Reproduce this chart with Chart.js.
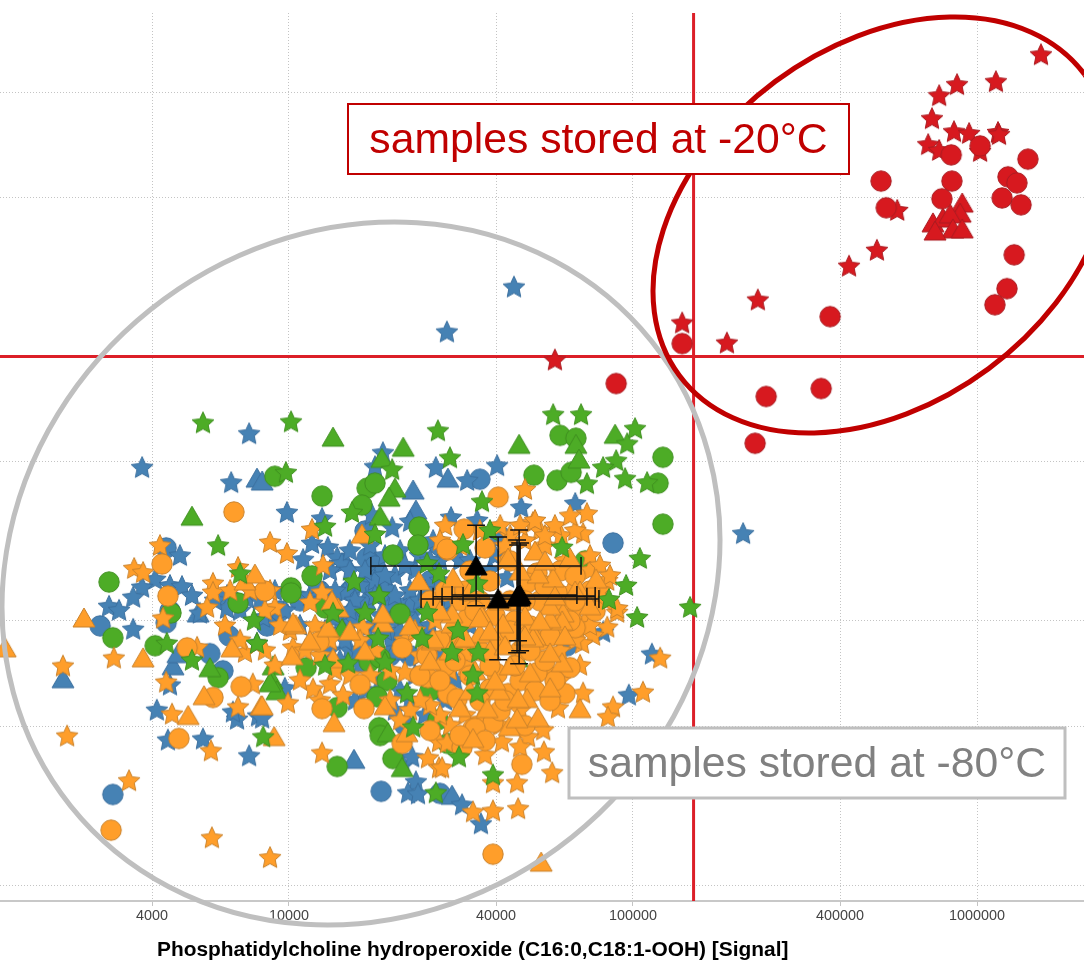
<!DOCTYPE html>
<html>
<head>
<meta charset="utf-8">
<title>Phosphatidylcholine hydroperoxide</title>
<script src="https://cdn.jsdelivr.net/npm/chart.js@4"></script>
<style>
  html, body { margin: 0; padding: 0; background: #fff; }
  canvas { display: block; }
</style>
</head>
<body>
<canvas id="scatterChart" width="1084" height="962"></canvas>
<script>
// all series values are log10(signal)
const xTickValues = [4000, 10000, 40000, 100000, 400000, 1000000];
const yTickValues = [1000, 4000, 10000, 40000, 100000, 400000, 1000000];
const xCutoff = 150000;
const yCutoff = 100000;

const blueStarX = [4.654,4.459,5.320,3.573,3.884,3.832,3.994,4.273,4.250,4.427,4.518,4.605,4.675,4.832,4.241,4.096,4.067,4.113,4.140,4.154,4.041,4.300,4.352,4.471,4.419,4.547,3.683,3.611,3.573,3.547,3.654,3.689,3.718,3.477,3.506,3.547,3.741,3.820,3.820,3.878,3.925,3.907,3.654,3.616,3.648,3.750,3.884,3.849,3.910,3.837,4.332,4.358,4.369,4.346,4.375,4.503,4.558,4.177,4.201,3.988,3.922,4.061,4.105,4.163,4.207,4.250,4.308,4.352,4.192,4.236,4.294,4.323,4.381,4.410,4.163,4.207,4.119,4.323,4.366,4.308,4.192,4.439,4.483,4.526,4.468,4.439,4.497,5.055,4.988,4.913,
    4.119,4.177,4.236,4.279,4.323,4.381,4.439,4.076,4.134,4.192,4.250,4.308,4.366,4.410,4.279,4.236,4.148,4.105,4.032,3.988,3.959,3.916,3.858,3.785,4.265,4.221,4.352,4.395,4.454,4.526,4.584,4.634,4.599,4.526,
    4.003,4.090,4.177,4.265,4.337,4.395,4.177,4.221,4.279,4.337];
const blueStarY = [5.261,5.091,4.328,4.578,4.706,4.521,4.408,4.634,4.581,4.578,4.529,4.585,4.427,4.442,4.400,4.385,4.291,4.276,4.238,4.215,4.230,4.351,4.374,4.389,4.302,4.378,4.245,4.155,4.125,4.087,4.132,4.128,4.094,4.053,4.038,3.966,4.027,4.094,4.045,4.083,4.011,3.913,3.755,3.660,3.547,3.551,3.487,3.626,3.638,3.653,3.453,3.483,3.389,3.347,3.343,3.302,3.230,3.887,3.887,3.743,3.630,4.094,4.076,4.106,4.132,4.151,4.170,4.113,4.000,3.981,4.057,3.962,4.076,3.981,3.925,3.830,3.887,3.736,3.793,3.660,3.698,3.868,3.774,3.981,4.076,4.151,4.227,3.872,3.717,3.955,
    4.189,4.189,4.283,4.245,4.264,4.245,4.227,4.132,4.113,4.076,4.094,4.094,4.189,4.227,3.962,3.925,3.849,3.962,3.981,4.038,4.113,4.076,4.038,4.076,3.774,3.736,3.698,3.642,3.698,3.887,4.189,4.162,4.245,4.227,
    4.113,4.076,4.038,4.019,4.019,4.113,4.264,4.189,4.170,4.208];
const blueCircleX = [4.555,4.942,3.643,3.643,3.654,3.451,3.826,3.770,3.808,3.488,4.268,4.614,4.227,4.230,4.332,3.954,3.936,4.337,4.439,4.221,4.279,4.032,4.192,4.308,4.352,4.439,4.454,4.410,4.163,4.808,
    4.119,4.308,4.250,4.177,4.366,4.294,4.410,3.974,4.090];
const blueCircleY = [4.536,4.295,4.276,3.993,4.038,3.981,3.943,3.876,3.811,3.343,3.355,4.321,4.238,4.144,4.049,4.000,3.981,3.604,3.347,4.340,4.113,4.076,4.038,3.925,3.868,4.283,4.038,4.151,3.981,3.906,
    4.057,4.019,4.208,4.113,4.057,3.868,3.925,4.038,4.113];
const blueTriangleX = [3.907,3.343,3.663,3.677,3.736,4.361,4.369,4.462,3.922,4.189,4.474,4.163,4.308,4.221,4.366,4.134,4.439];
const blueTriangleY = [4.540,3.781,3.830,3.876,4.030,4.495,4.419,4.540,4.529,3.476,3.340,4.227,3.887,4.076,4.000,4.019,3.925];

const greenStarX = [3.750,4.006,4.433,4.768,4.849,3.991,4.468,4.300,4.183,4.250,4.105,4.506,4.401,4.189,4.262,4.436,4.221,4.128,4.401,5.006,4.983,4.951,4.913,4.977,4.866,5.041,4.561,4.584,4.794,5.020,4.980,4.930,5.012,5.166,3.794,3.898,3.907,3.858,3.645,3.718,3.925,4.172,4.279,4.343,4.474,4.535,4.547,4.491,4.259,4.105,4.494,4.427,4.361,4.550,4.593,4.547,4.387];
const greenStarY = [4.747,4.751,4.717,4.778,4.778,4.559,4.615,4.570,4.408,4.325,4.355,4.287,4.215,4.147,4.094,4.177,4.030,4.027,4.030,4.725,4.668,4.604,4.578,4.536,4.517,4.521,4.449,4.340,4.276,4.234,4.132,4.079,4.011,4.049,4.283,4.000,3.913,4.177,3.913,3.849,3.559,3.838,3.842,3.725,3.879,3.793,3.725,3.962,3.932,3.830,3.483,3.347,3.596,3.879,3.415,4.140,3.932];
const greenCircleX = [3.959,4.096,4.227,4.250,4.212,4.378,4.375,4.302,4.067,4.006,4.006,4.105,4.323,4.788,4.834,5.087,5.073,5.087,4.712,4.779,4.820,4.861,4.866,3.477,3.488,3.657,3.852,3.611,3.794,4.050,4.233,4.265,4.285,4.256,4.140,4.410,4.433,4.262,4.265,4.302,4.140,4.462];
const greenCircleY = [4.547,4.472,4.502,4.521,4.438,4.355,4.287,4.249,4.170,4.125,4.106,4.049,4.027,4.702,4.691,4.619,4.521,4.366,4.551,4.532,4.562,4.227,4.068,4.147,3.936,4.030,4.068,3.906,3.785,3.823,3.845,3.860,3.774,3.713,3.672,3.736,3.626,3.596,3.566,3.479,3.449,3.536];
const greenTriangleX = [4.128,4.332,4.270,4.308,4.291,4.265,4.669,4.948,4.834,4.843,3.718,3.954,3.951,3.965,4.288,4.329,4.154,3.770,3.945,4.663];
const greenTriangleY = [4.695,4.657,4.615,4.502,4.468,4.396,4.668,4.706,4.668,4.612,4.396,3.830,3.777,3.736,3.577,3.445,3.970,3.823,3.766,3.860];

const orangeStarX = [3.343,3.491,3.355,3.535,3.776,3.945,3.643,3.660,3.852,3.773,3.895,3.872,3.733,3.550,3.576,3.625,3.779,3.779,3.762,3.852,3.634,3.945,3.994,4.067,4.099,4.096,4.061,3.959,3.945,3.997,4.070,4.119,4.157,4.012,4.096,4.404,4.436,4.436,4.535,4.337,4.468,4.215,4.512,5.079,5.029,4.942,4.927,4.855,4.782,4.739,4.695,4.619,4.570,4.672,4.741,4.765,4.663,4.666,4.593,4.593,4.925,4.884,4.852,4.445,4.459,4.954,4.686,4.866,4.855,4.709,4.730,4.791,4.925,4.954,4.628,4.686,4.744,4.802,4.875,4.817,4.454,4.890,4.861,4.919,4.643,
    4.439,4.497,4.555,4.614,4.672,4.715,4.773,4.832,4.817,4.744,4.628,4.875,4.904,4.933,4.904,4.861,4.832,4.788,4.875,4.832,4.788,4.744,4.788,4.846,4.672,4.614,4.555,4.512,4.468,4.439,4.410,4.381,4.352,4.323,4.294,4.236,4.177,4.134,4.090,4.047,4.003,3.974,4.076,4.119,4.207,4.250,4.294,4.337,4.381,4.425,4.366,3.930,3.887,3.829,3.814,3.858,3.930,3.959,4.032,4.090];
const orangeStarY = [3.827,3.857,3.562,3.393,3.177,3.102,3.766,3.645,3.672,3.506,3.759,3.879,3.898,4.196,4.181,4.283,4.140,4.106,4.049,4.200,4.008,4.295,4.253,4.344,4.208,4.106,4.068,4.049,4.113,3.687,3.740,3.759,3.717,3.898,3.498,3.479,3.442,3.540,3.275,3.804,3.811,3.974,3.830,3.857,3.728,3.672,3.634,3.725,3.668,3.585,3.559,3.540,3.491,3.521,3.502,3.423,3.385,3.287,3.279,3.385,3.974,3.943,3.913,3.442,3.536,4.030,4.495,4.404,4.328,4.370,4.340,4.321,4.151,4.045,4.227,4.302,4.283,4.227,4.189,4.113,4.359,4.076,4.000,4.076,4.321,
    4.302,4.283,4.340,4.359,4.359,4.378,4.359,4.340,4.396,4.321,4.283,4.245,4.208,4.170,4.113,4.057,4.038,4.000,3.981,3.925,3.887,3.811,3.774,3.830,3.660,3.604,3.623,3.642,3.604,3.642,3.679,3.698,3.660,3.623,3.698,3.793,3.793,3.811,3.868,3.887,3.962,3.981,3.981,3.925,3.925,3.887,3.811,3.925,3.868,4.000,3.962,4.038,4.113,4.113,3.981,3.925,3.887,3.830,3.774,3.698];
const orangeCircleX = [3.840,3.631,3.648,3.930,3.704,3.680,3.483,3.861,3.779,4.462,4.509,4.608,4.087,4.096,4.207,4.218,4.329,4.329,4.401,4.404,4.462,4.489,4.535,4.503,4.593,4.677,4.832,4.817,4.802,4.773,4.593,4.541,4.721,4.637,4.584,4.605,4.773,4.459,4.570,4.401,4.788,4.701,4.518,4.721,4.779,4.692,4.643,4.730,4.614,4.672,4.730,4.526,4.468,4.614,4.555,4.439,4.657,4.744,4.672,4.497,4.584,4.643,4.832,4.526,4.454,
    4.410,4.454,4.512,4.555,4.599,4.643,4.686,4.744,4.788,4.832,4.875,4.817,4.759,4.701,4.657,4.584,4.526,4.483,4.439,4.381,4.497,4.555,4.541,4.628,4.715,4.759,4.686,4.570,4.497,4.410,4.890];
const orangeCircleY = [4.412,4.215,4.094,4.113,3.898,3.555,3.208,3.751,3.710,4.268,4.347,4.468,3.921,3.668,3.759,3.668,3.536,3.898,3.876,3.785,3.725,3.706,3.593,3.521,3.117,3.457,3.974,3.823,3.725,3.774,3.615,3.593,3.804,3.725,3.743,3.800,3.981,4.272,4.276,3.868,4.068,3.981,4.008,4.181,4.106,4.144,4.076,4.076,3.925,3.887,3.925,3.887,3.925,3.660,3.698,3.925,4.000,3.849,3.774,4.076,4.151,4.227,4.076,4.189,3.830,
    4.076,4.113,4.113,4.076,4.019,3.962,4.076,4.132,4.189,4.170,4.113,4.000,3.943,3.887,3.830,3.830,3.793,3.849,3.774,3.793,3.925,3.887,4.038,3.698,3.736,3.698,3.604,3.547,3.566,3.585,4.038];
const orangeTriangleX = [3.175,3.404,3.576,3.753,3.707,3.919,3.957,4.131,4.279,4.113,4.020,4.128,4.009,3.922,4.343,4.535,4.497,4.416,4.143,4.125,4.012,4.273,4.212,4.378,4.477,4.474,3.872,3.901,3.834,4.846,4.724,4.640,4.663,4.692,4.666,4.611,4.576,4.759,4.701,4.794,4.759,4.715,4.622,4.561,4.506,4.555,4.797,4.733,4.893,4.768,4.794,4.759,4.817,4.637,4.724,4.273,4.474,4.555,4.419,4.512,4.709,4.759,4.672,4.584,4.643,4.541,4.686,4.614,4.846,4.715,
    4.439,4.526,4.584,4.628,4.686,4.730,4.773,4.832,4.875,4.744,4.672,4.802,4.599,4.526,4.468,4.410,4.352,4.221,4.177,4.061];
const orangeTriangleY = [3.898,4.011,3.860,3.717,3.642,3.679,3.562,3.615,3.679,3.974,3.985,3.857,3.868,3.679,3.577,3.555,3.672,3.925,4.049,4.076,3.993,3.993,4.328,4.151,4.162,3.989,4.151,4.177,3.898,3.668,3.634,3.600,3.630,3.706,3.706,3.736,3.668,3.747,3.804,3.842,3.879,3.943,3.989,4.019,3.936,3.951,4.030,3.087,4.159,4.162,4.000,4.008,4.238,4.238,4.177,4.027,4.027,4.011,3.932,3.936,3.936,4.057,4.076,3.887,3.830,3.811,4.019,4.076,4.113,4.264,
    4.038,4.113,3.962,3.906,3.943,4.000,4.094,4.113,4.057,4.227,4.189,3.943,3.774,3.736,3.887,3.849,3.981,3.887,3.962,3.925];

const redCircleX = [5.925,6.009,6.148,6.090,6.116,5.927,5.721,5.898,5.736,6.073,6.128,6.108,6.087,6.052,5.573,5.143,5.547,5.387,5.355,4.951];
const redCircleY = [5.763,5.797,5.747,5.680,5.657,5.664,5.664,5.597,5.563,5.600,5.574,5.385,5.257,5.196,5.151,5.049,4.879,4.849,4.672,4.898];
const redTriangleX = [5.957,5.951,5.872,5.901,5.922,5.930,5.957,5.878];
const redTriangleY = [5.581,5.543,5.506,5.524,5.540,5.483,5.483,5.475];
const redStarX = [6.186,5.942,6.055,5.890,5.869,5.933,5.977,6.061,6.064,5.858,5.890,6.009,5.768,5.709,5.628,5.363,5.143,5.273,4.773];
const redStarY = [6.140,6.027,6.038,5.985,5.898,5.849,5.842,5.846,5.838,5.800,5.778,5.774,5.551,5.400,5.340,5.212,5.125,5.049,4.985];

// group means with their error bars
const meanX = [4.666,4.663,4.672,4.669,4.608,4.544];
const meanY = [4.094,4.091,4.098,4.091,4.083,4.208];
const errLeft = [4.506,4.419,4.474,4.445,4.384,4.238];
const errRight = [4.890,4.866,4.837,4.890,4.901,4.849];
const errBottom = [3.925,3.879,3.887,3.838,3.853,4.057];
const errTop = [4.287,4.306,4.295,4.344,4.317,4.362];

const xAxisTitle = "Phosphatidylcholine hydroperoxide (C16:0,C18:1-OOH) [Signal]";
const redLabel = "samples stored at -20°C";
const greyLabel = "samples stored at -80°C";

const blue = ["#4682b4", "#3b6f9e"];
const green = ["#4dac26", "#3f8f20"];
const orange = ["#ff9e2a", "#c9822c"];
const red = ["#d7191f", "#a91c22"];
const black = ["#000000", "#000000"];

function makeMarker(shape, colors) {
    const c = document.createElement("canvas");
    c.width = 28;
    c.height = 28;
    const g = c.getContext("2d");
    g.translate(14, 14);
    g.fillStyle = colors[0];
    g.strokeStyle = colors[1];
    g.lineWidth = 1;
    g.lineJoin = "miter";
    g.beginPath();
    if (shape === "circle") {
        g.arc(0, 0, 10.2, 0, Math.PI * 2);
    } else if (shape === "triangle") {
        g.moveTo(0, -10);
        g.lineTo(11, 9);
        g.lineTo(-11, 9);
        g.closePath();
    } else {
        for (let i = 0; i < 10; i++) {
            const r = i % 2 === 0 ? 11.5 : 5.5;
            const a = -Math.PI / 2 + i * Math.PI / 5;
            g.lineTo(Math.cos(a) * r, Math.sin(a) * r);
        }
        g.closePath();
    }
    g.fill();
    g.stroke();
    return c;
}

function toPoints(xs, ys) {
    return xs.map((v, i) => ({ x: Math.pow(10, v), y: Math.pow(10, ys[i]) }));
}

function markerSet(label, xs, ys, shape, colors) {
    return {
        label: label,
        data: toPoints(xs, ys),
        pointStyle: makeMarker(shape, colors),
        pointRadius: 10,
        showLine: false
    };
}

function lineSet(label, data, color, width) {
    return {
        label: label,
        data: data,
        showLine: true,
        borderColor: color,
        borderWidth: width,
        pointRadius: 0,
        spanGaps: false
    };
}

// error bars go through the scales too, one path with gaps between the pieces
function errorBarData() {
    const capX = 0.026;
    const capY = 0.034;
    const pts = [];
    const add = (x1, y1, x2, y2) => {
        pts.push({ x: Math.pow(10, x1), y: Math.pow(10, y1) });
        pts.push({ x: Math.pow(10, x2), y: Math.pow(10, y2) });
        pts.push({ x: null, y: null });
    };
    for (let i = 0; i < meanX.length; i++) {
        add(errLeft[i], meanY[i], errRight[i], meanY[i]);
        add(errLeft[i], meanY[i] - capY, errLeft[i], meanY[i] + capY);
        add(errRight[i], meanY[i] - capY, errRight[i], meanY[i] + capY);
        add(meanX[i], errBottom[i], meanX[i], errTop[i]);
        add(meanX[i] - capX, errBottom[i], meanX[i] + capX, errBottom[i]);
        add(meanX[i] - capX, errTop[i], meanX[i] + capX, errTop[i]);
    }
    return pts;
}

// drawn in this order, last one on top
const datasets = [
    lineSet("x cutoff", [{ x: xCutoff, y: 1e2 }, { x: xCutoff, y: 1e7 }], "#dc1f28", 3),
    lineSet("y cutoff", [{ x: 1e3, y: yCutoff }, { x: 1e7, y: yCutoff }], "#dc1f28", 3),
    markerSet("blue circles", blueCircleX, blueCircleY, "circle", blue),
    markerSet("blue triangles", blueTriangleX, blueTriangleY, "triangle", blue),
    markerSet("blue stars", blueStarX, blueStarY, "star", blue),
    markerSet("green circles", greenCircleX, greenCircleY, "circle", green),
    markerSet("green triangles", greenTriangleX, greenTriangleY, "triangle", green),
    markerSet("orange stars", orangeStarX, orangeStarY, "star", orange),
    markerSet("orange circles", orangeCircleX, orangeCircleY, "circle", orange),
    markerSet("orange triangles", orangeTriangleX, orangeTriangleY, "triangle", orange),
    markerSet("green stars", greenStarX, greenStarY, "star", green),
    markerSet("red stars", redStarX, redStarY, "star", red),
    markerSet("red triangles", redTriangleX, redTriangleY, "triangle", red),
    markerSet("red circles", redCircleX, redCircleY, "circle", red),
    lineSet("error bars", errorBarData(), "#111111", 1.5),
    markerSet("means", meanX, meanY, "triangle", black)
];
datasets.forEach((d, i) => { d.order = datasets.length - i; });

function drawEllipse(ctx, cx, cy, a, b, rot, color) {
    ctx.beginPath();
    ctx.ellipse(cx, cy, a, b, rot, 0, Math.PI * 2);
    ctx.lineWidth = 5;
    ctx.strokeStyle = color;
    ctx.stroke();
}

function drawBox(ctx, x, y, w, h, text, boxColor, textColor, border) {
    ctx.fillStyle = "#ffffff";
    ctx.fillRect(x, y, w, h);
    ctx.lineWidth = border;
    ctx.strokeStyle = boxColor;
    ctx.strokeRect(x, y, w, h);
    ctx.fillStyle = textColor;
    ctx.font = "42.7px 'Liberation Sans'";
    ctx.textAlign = "center";
    ctx.textBaseline = "middle";
    ctx.fillText(text, x + w / 2, y + h / 2 + 2);
}

const notesPlugin = {
    id: "notes",
    afterDraw(chart) {
        const ctx = chart.ctx;
        ctx.save();
        drawEllipse(ctx, 361, 573.5, 372, 337.6, -38.7 * Math.PI / 180, "#bfbfbf");
        drawEllipse(ctx, 882, 225, 252.4, 178.9, -36.6 * Math.PI / 180, "#c00000");
        drawBox(ctx, 348, 104, 501, 70, redLabel, "#c00000", "#c00000", 2);
        drawBox(ctx, 569, 728, 496, 70, greyLabel, "#bfbfbf", "#808080", 3);
        ctx.fillStyle = "#000000";
        ctx.font = "bold 20.9px 'Liberation Sans'";
        ctx.textAlign = "left";
        ctx.textBaseline = "middle";
        ctx.fillText(xAxisTitle, 157, 950);
        ctx.restore();
    }
};

const ctx = document.getElementById("scatterChart");
new Chart(ctx, {
    type: "scatter",
    data: { datasets: datasets },
    plugins: [notesPlugin],
    options: {
        responsive: false,
        animation: false,
        layout: { autoPadding: false, padding: { top: 13 } },
        plugins: {
            legend: { display: false },
            tooltip: { enabled: false }
        },
        scales: {
            x: {
                type: "logarithmic",
                min: Math.pow(10, 3.16),
                max: Math.pow(10, 6.311),
                afterBuildTicks: (scale) => { scale.ticks = xTickValues.map(v => ({ value: v })); },
                afterFit: (scale) => {
                    scale.height = 61;
                    scale.paddingLeft = 0;
                    scale.paddingRight = 0;
                },
                border: { display: true, color: "#c8c8c8", width: 2, dash: [1, 2] },
                grid: { color: "#c4c4c4", lineWidth: 1, tickLength: 5, drawTicks: true, tickColor: "#c4c4c4" },
                ticks: {
                    autoSkip: false,
                    maxRotation: 0,
                    padding: 1,
                    color: "#444444",
                    font: { family: "'Liberation Sans'", size: 14.4 },
                    callback: (v) => String(v)
                }
            },
            y: {
                type: "logarithmic",
                min: Math.pow(10, 2.94),
                max: Math.pow(10, 6.30),
                afterBuildTicks: (scale) => { scale.ticks = yTickValues.map(v => ({ value: v })); },
                afterFit: (scale) => { scale.width = 0; },
                border: { display: false, dash: [1, 2] },
                grid: { color: "#c4c4c4", lineWidth: 1, drawTicks: false },
                ticks: { display: false }
            }
        }
    }
});
</script>
</body>
</html>
